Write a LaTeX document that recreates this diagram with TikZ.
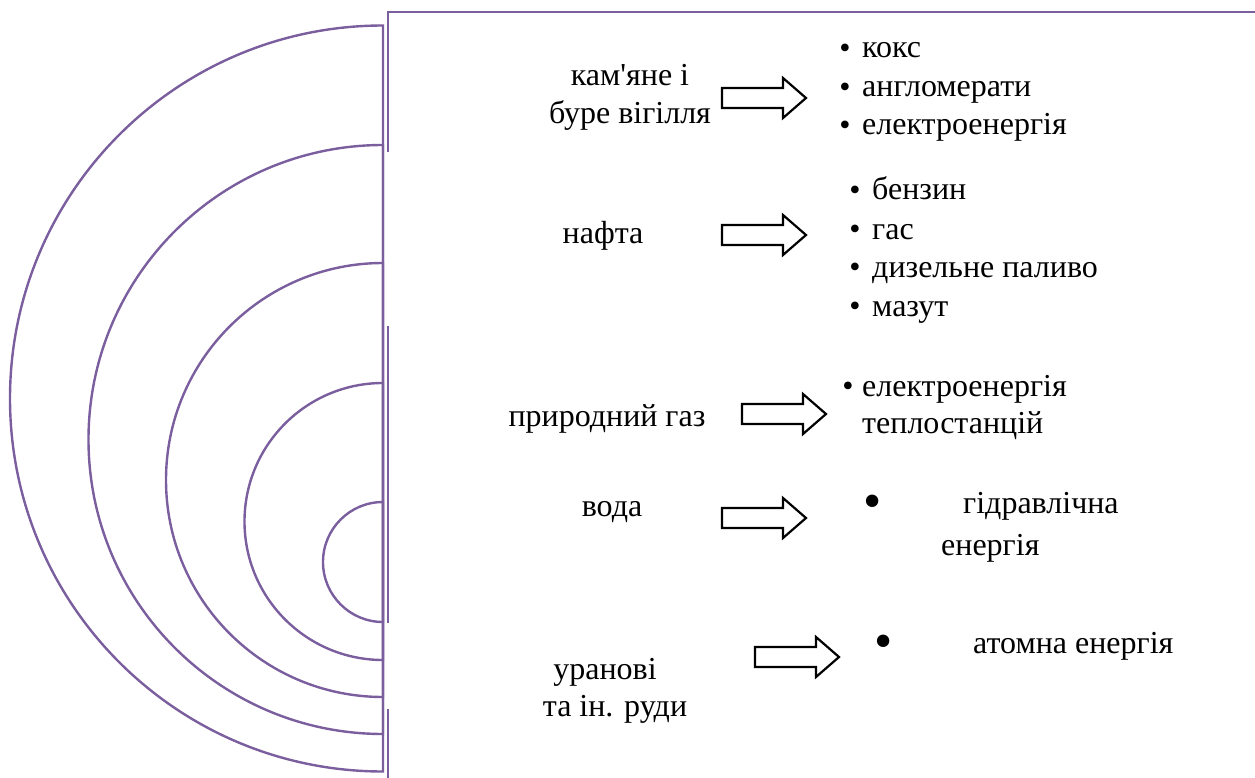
\documentclass[tikz,border=0pt]{standalone}
\usepackage{fontspec}
\setmainfont{Liberation Serif}[Ligatures=TeXOff]
\definecolor{ring}{RGB}{122,94,158}
\begin{document}
\begin{tikzpicture}[x=1pt,y=-1pt,
  ringline/.style={draw=ring,line width=2.4pt},
  arrowline/.style={draw=black,line width=2.2pt,line join=miter},
  txt/.style={inner sep=0pt,font=\fontsize{32}{38}\selectfont,anchor=base},
  lst/.style={txt,anchor=base west},
  sbul/.style={inner sep=0pt,font=\fontsize{32}{38}\selectfont,anchor=center},
  bbul/.style={inner sep=0pt,font=\fontsize{52}{60}\selectfont,anchor=center},
  fatarrow/.pic={\draw[arrowline] (0,-10)--(61,-10)--(61,-20)--(84,0)--(61,20)--(61,10)--(0,10)--cycle;}
]
\useasboundingbox (0,0) rectangle (1255,778);
% nested semicircles
\foreach \cy/\r in {398.5/373, 439.5/294.5, 480/217, 521.5/138.5, 562/60}{
  \draw[ringline] (383,\cy) ++(0,-\r) arc[start angle=270,end angle=90,radius=\r] -- cycle;
}
% frame lines
\coordinate (f1) at (388,152);
\coordinate (f2) at (388,12);
\coordinate (f3) at (1255,12);
\draw[ringline] (f1) -- (f2) -- (f3);
\coordinate (g1) at (388,326);
\coordinate (g2) at (388,623);
\draw[ringline] (g1) -- (g2);
\coordinate (h1) at (388,709);
\coordinate (h2) at (388,778);
\draw[ringline] (h1) -- (h2);
% left labels
\node[txt] (coal1) at (630,86) {кам'яне і};
\node[txt] (coal2) at (630,124) {буре вігілля};
\node[txt] (oil) at (603,243) {нафта};
\node[txt] (gas) at (607,426) {природний газ};
\node[txt] (water) at (612,516) {вода};
\node[txt] (uran1) at (605,679) {уранові};
\node[txt] (uran2) at (615,716) {та ін. руди};
% arrows
\pic at (722,98) {fatarrow};
\pic at (722,235) {fatarrow};
\pic at (742,414) {fatarrow};
\pic at (722,518) {fatarrow};
\pic at (755,657) {fatarrow};
% right lists
\node[sbul] (b1) at (845,51) {•};
\node[lst] (t1) at (862,58) {кокс};
\node[sbul] (b2) at (845,90) {•};
\node[lst] (t2) at (862,97) {англомерати};
\node[sbul] (b3) at (845,128) {•};
\node[lst] (t3) at (862,135) {електроенергія};
\node[sbul] (b4) at (855,193) {•};
\node[lst] (t4) at (872,200) {бензин};
\node[sbul] (b5) at (855,232) {•};
\node[lst] (t5) at (872,239) {гас};
\node[sbul] (b6) at (855,270) {•};
\node[lst] (t6) at (872,277) {дизельне паливо};
\node[sbul] (b7) at (855,309) {•};
\node[lst] (t7) at (872,316) {мазут};
\node[sbul] (b8) at (848,389) {•};
\node[lst] (t8) at (862,396) {електроенергія};
\node[lst] (t9) at (862,433) {теплостанцій};
\node[bbul] (b10) at (873,507) {•};
\node[lst] (t10) at (963,513) {гідравлічна};
\node[lst] (t11) at (941,555) {енергія};
\node[bbul] (b12) at (884,647) {•};
\node[lst] (t12) at (973,653) {атомна енергія};
\end{tikzpicture}
\end{document}
